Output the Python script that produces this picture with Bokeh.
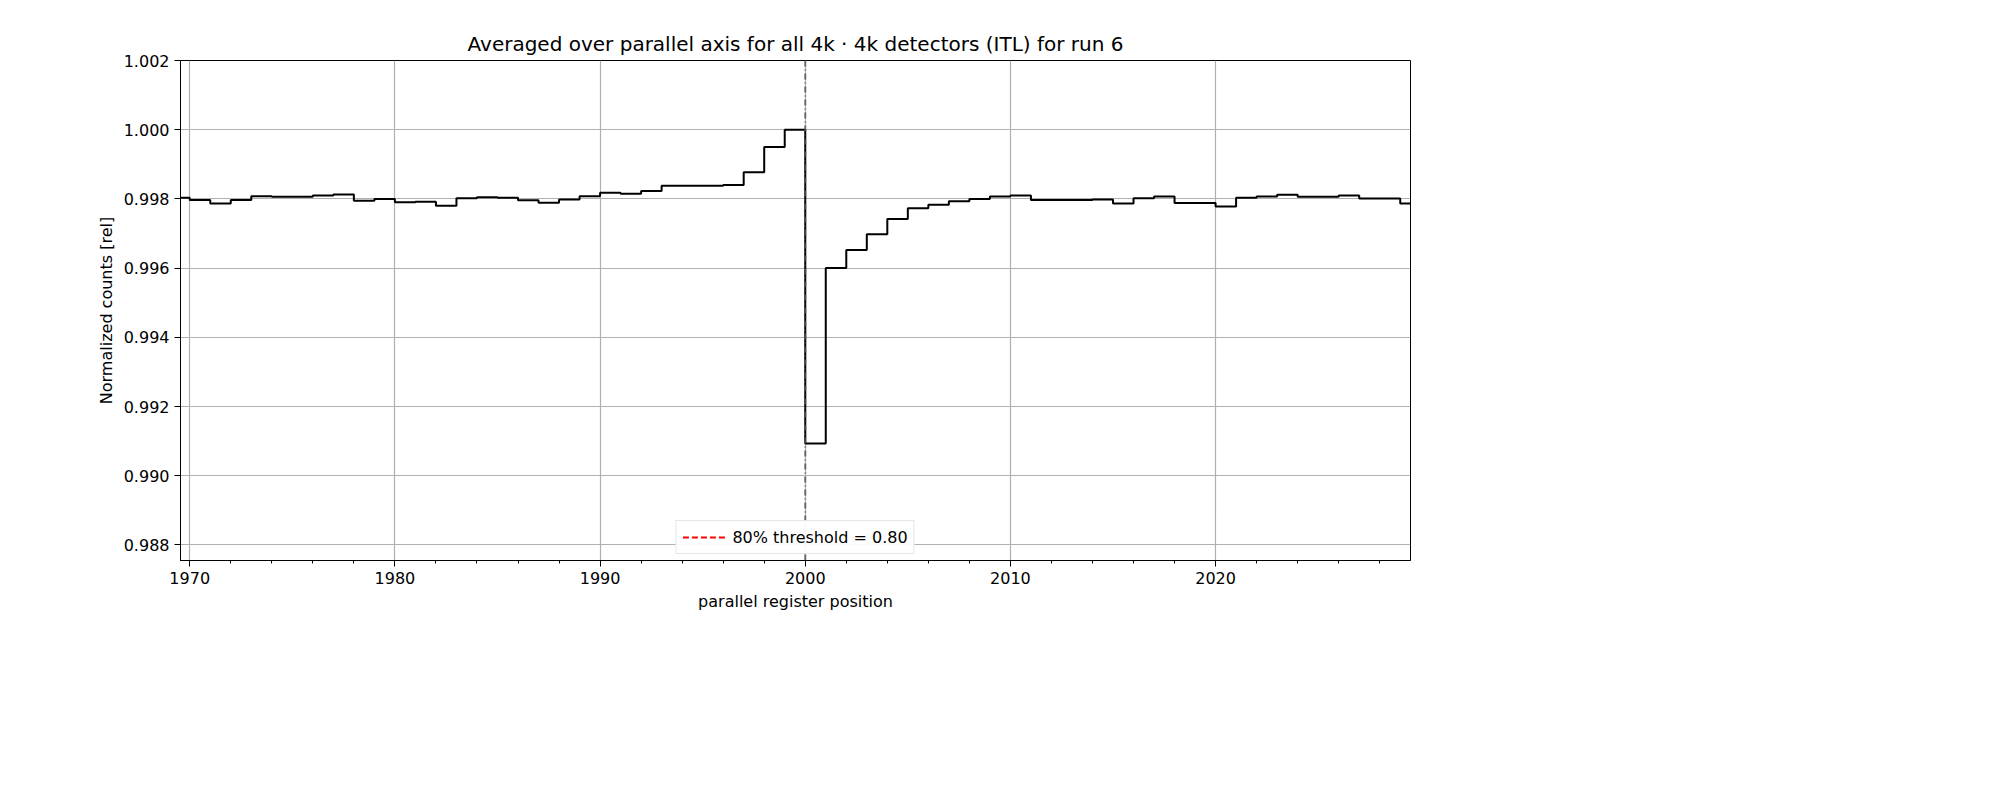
from bokeh.plotting import figure
from bokeh.embed import file_html
from bokeh.resources import INLINE
from bokeh.models import Span, Legend, LegendItem, FixedTicker, Title, PrintfTickFormatter

positions = list(range(1969, 2031))
counts = [0.99803,0.99797,0.99787,0.99797,0.99808,0.99806,0.99806,0.99810,0.99813,0.99795,
          0.99800,0.99790,0.99792,0.99780,0.99802,0.99805,0.99803,0.99796,0.99789,0.99798,
          0.99808,0.99818,0.99815,0.99823,0.99838,0.99838,0.99838,0.99840,0.99877,0.99950,
          1.00000,0.99093,0.99600,0.99652,0.99698,0.99742,0.99773,0.99783,0.99793,0.99800,
          0.99807,0.99810,0.99797,0.99797,0.99797,0.99798,0.99787,0.99802,0.99807,0.99788,
          0.99788,0.99778,0.99803,0.99807,0.99812,0.99806,0.99806,0.99810,0.99801,0.99801,
          0.99787,0.99787]
x_ticks = [1970, 1980, 1990, 2000, 2010, 2020]
y_ticks = [0.988, 0.990, 0.992, 0.994, 0.996, 0.998, 1.000, 1.002]
threshold = 0.80

p = figure(width=1540, height=620, output_backend="svg", toolbar_location=None,
           x_range=(1969.55, 2029.5), y_range=(0.98755, 1.002),
           min_border_left=180, min_border_right=130, min_border_top=60, min_border_bottom=60)
p.title = Title(text="Averaged over parallel axis for all 4k \u00b7 4k detectors (ITL) for run 6",
                align="center", text_font_size="15pt", text_font_style="normal",
                text_font="DejaVu Sans", text_color="black")
p.outline_line_color = "black"
p.step(positions, counts, mode="after", line_color="black", line_width=2)
p.add_layout(Span(location=2000, dimension="height", line_color="#555555",
                  line_dash="6 3 1 3", line_width=2, line_alpha=0.8))
thr = p.line([1969, 2030], [threshold, threshold], line_color="red", line_dash="6 3", line_width=2)
leg = Legend(items=[LegendItem(label="80% threshold = 0.80", renderers=[thr])],
             location="bottom_center", label_text_font_size="12pt", label_text_font="DejaVu Sans",
             label_text_color="black", border_line_color="#cccccc", glyph_width=45, padding=6, margin=6)
p.add_layout(leg, "center")
p.xaxis.ticker = FixedTicker(ticks=x_ticks, minor_ticks=list(range(1970, 2030, 2)))
p.yaxis.ticker = FixedTicker(ticks=y_ticks)
p.yaxis.formatter = PrintfTickFormatter(format="%.3f")
p.xaxis.axis_label = "parallel register position"
p.yaxis.axis_label = "Normalized counts [rel]"
for ax in (p.xaxis, p.yaxis):
    ax.axis_label_text_font_style = "normal"
    ax.axis_label_text_font_size = "12pt"
    ax.major_label_text_font_size = "12pt"
    ax.axis_label_text_font = "DejaVu Sans"
    ax.major_label_text_font = "DejaVu Sans"
    ax.axis_label_text_color = "black"
    ax.major_label_text_color = "black"
    ax.major_tick_in = 0
    ax.major_tick_out = 6
    ax.minor_tick_out = 3
    ax.minor_tick_in = 0
    ax.major_tick_line_color = "black"
    ax.axis_line_color = "black"
p.yaxis.minor_tick_line_color = None
p.grid.grid_line_color = "#b0b0b0"
p.grid.grid_line_width = 1.2
p.grid.grid_line_alpha = 1
open("out.html", "w").write(file_html(p, INLINE))
